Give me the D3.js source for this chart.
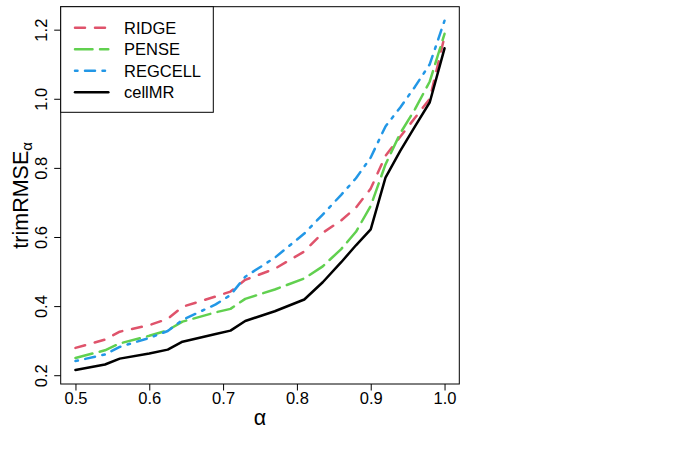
<!DOCTYPE html>
<html>
<head>
<meta charset="utf-8">
<script src="https://cdn.jsdelivr.net/npm/d3@7"></script>
<style>
  body { margin: 0; background: #fff; }
  text { font-family: "Liberation Sans", Arial, sans-serif; }
</style>
</head>
<body>
<div id="chart"></div>
<script>
// alpha grid shared by all methods
const alphas  = [0.5, 0.54, 0.56, 0.6, 0.625, 0.645, 0.69, 0.71, 0.73, 0.77, 0.81, 0.835, 0.86, 0.88, 0.9, 0.92, 0.94, 0.96, 0.98, 1.0];
const ridge   = [0.279, 0.303, 0.326, 0.345, 0.363, 0.398, 0.428, 0.442, 0.476, 0.508, 0.558, 0.612, 0.648, 0.685, 0.74, 0.835, 0.89, 0.945, 1.0, 1.18];
const pense   = [0.25, 0.272, 0.292, 0.314, 0.33, 0.355, 0.382, 0.392, 0.421, 0.448, 0.48, 0.515, 0.565, 0.615, 0.69, 0.81, 0.9, 0.97, 1.05, 1.188];
const regcell = [0.241, 0.26, 0.282, 0.308, 0.328, 0.36, 0.405, 0.432, 0.485, 0.54, 0.61, 0.665, 0.722, 0.77, 0.83, 0.92, 0.975, 1.035, 1.1, 1.226];
const cellmr  = [0.215, 0.231, 0.248, 0.263, 0.274, 0.297, 0.319, 0.329, 0.357, 0.385, 0.419, 0.469, 0.527, 0.576, 0.622, 0.772, 0.849, 0.92, 0.99, 1.146];

const seriesNames = ["RIDGE", "PENSE", "REGCELL", "cellMR"];
const xTicks = [0.5, 0.6, 0.7, 0.8, 0.9, 1.0];
const yTicks = [0.2, 0.4, 0.6, 0.8, 1.0, 1.2];

const lwd = 2.5;
const styles = {
    RIDGE:   { color: "#DF536B", dash: [4, 4] },
    PENSE:   { color: "#61D04F", dash: [7, 3] },
    REGCELL: { color: "#2297E6", dash: [1, 3, 4, 3] },
    cellMR:  { color: "#000000", dash: null }
};

const series = [ridge, pense, regcell, cellmr].map((vals, i) => ({
    name: seriesNames[i],
    values: vals.map((v, j) => ({ a: alphas[j], v: v }))
}));

const width = 689, height = 471;
const pLeft = 60.7, pRight = 459.3, pTop = 6.7, pBottom = 384;

const svg = d3.select("#chart").append("svg")
    .attr("width", width)
    .attr("height", height);

// R style 4% extension of the data range
function rRange(lo, hi) {
    const d = (hi - lo) * 0.04;
    return [lo - d, hi + d];
}
const allY = [].concat(ridge, pense, regcell, cellmr);

const x = d3.scaleLinear()
    .domain(rRange(d3.min(alphas), d3.max(alphas)))
    .range([pLeft, pRight]);
const y = d3.scaleLinear()
    .domain(rRange(d3.min(allY), d3.max(allY)))
    .range([pBottom, pTop]);

const dashOf = d => styles[d.name].dash ? styles[d.name].dash.map(k => k * lwd).join(" ") : null;

// axes
const xAxis = svg.append("g")
    .attr("transform", `translate(0,${pBottom})`)
    .call(d3.axisBottom(x).tickValues(xTicks).tickSize(6.5).tickPadding(1.8).tickFormat(d3.format(".1f")));
xAxis.select(".domain").remove();
xAxis.selectAll("text").attr("font-size", 16.5).attr("fill", "#000").attr("font-family", null);
xAxis.selectAll("line").attr("stroke", "#000");

const yAxis = svg.append("g")
    .attr("transform", `translate(${pLeft},0)`)
    .call(d3.axisLeft(y).tickValues(yTicks).tickSize(6.5).tickFormat(d3.format(".1f")));
yAxis.select(".domain").remove();
yAxis.selectAll("line").attr("stroke", "#000");
yAxis.selectAll("text")
    .attr("font-size", 16.5)
    .attr("fill", "#000")
    .attr("text-anchor", "middle")
    .attr("transform", "rotate(-90)")
    .attr("x", 0)
    .attr("y", -13.7)
    .attr("dy", null);
xAxis.attr("font-family", null);
yAxis.attr("font-family", null);

// lines
const line = d3.line()
    .x(d => x(d.a))
    .y(d => y(d.v));

svg.selectAll(".series").data(series).enter().append("path")
    .attr("class", "series")
    .attr("d", d => line(d.values))
    .attr("fill", "none")
    .attr("stroke", d => styles[d.name].color)
    .attr("stroke-width", lwd)
    .attr("stroke-linecap", "round")
    .attr("stroke-linejoin", "round")
    .attr("stroke-dasharray", dashOf);

// plot box
svg.append("rect")
    .attr("x", pLeft)
    .attr("y", pTop)
    .attr("width", pRight - pLeft)
    .attr("height", pBottom - pTop)
    .attr("fill", "none")
    .attr("stroke", "#000")
    .attr("stroke-width", 1);

// axis titles
svg.append("text")
    .attr("x", (pLeft + pRight) / 2)
    .attr("y", 425)
    .attr("text-anchor", "middle")
    .attr("font-size", 21.5)
    .text("α");

const yl = svg.append("text")
    .attr("transform", `translate(28,${(pTop + pBottom) / 2}) rotate(-90)`)
    .attr("text-anchor", "middle")
    .attr("font-size", 21.5);
yl.append("tspan").text("trimRMSE");
yl.append("tspan").attr("font-size", 15).attr("dy", 4).text("α");

// legend
const legend = svg.append("g");
legend.append("rect")
    .attr("x", pLeft)
    .attr("y", pTop)
    .attr("width", 152.6)
    .attr("height", 105.6)
    .attr("fill", "#fff")
    .attr("stroke", "#000")
    .attr("stroke-width", 1);

const rowY = d3.scaleLinear().domain([0, 3]).range([27.7, 92.3]);
const items = legend.selectAll(".item").data(series).enter().append("g")
    .attr("transform", (d, i) => `translate(0,${rowY(i)})`);
items.append("line")
    .attr("x1", 75).attr("x2", 108.3)
    .attr("y1", 0).attr("y2", 0)
    .attr("stroke", d => styles[d.name].color)
    .attr("stroke-width", lwd)
    .attr("stroke-linecap", "round")
    .attr("stroke-dasharray", dashOf);
items.append("text")
    .attr("x", 124)
    .attr("y", 6)
    .attr("font-size", 16.5)
    .text(d => d.name);
</script>
</body>
</html>
